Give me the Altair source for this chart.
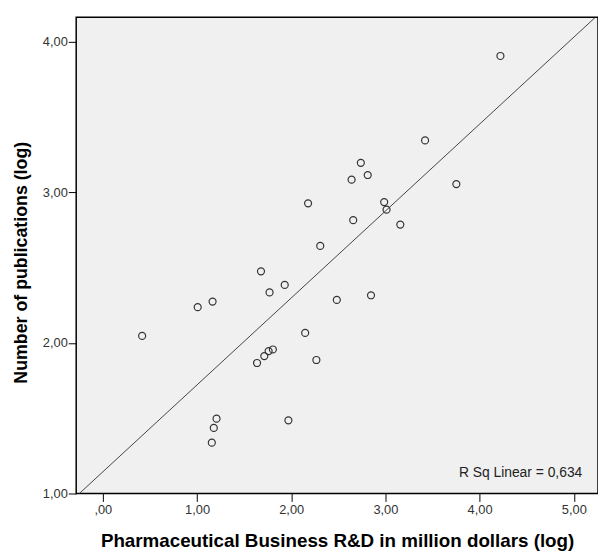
import altair as alt
import pandas as pd

rd_log = [4.221, 3.421, 3.753, 2.739, 2.812, 2.641, 2.179, 2.987, 3.012, 2.658,
          3.158, 2.308, 1.679, 1.770, 1.931, 1.165, 1.007, 2.484, 2.847, 0.417,
          2.148, 1.805, 1.760, 1.714, 1.637, 2.267, 1.207, 1.178, 1.157, 1.970]
pubs_log = [3.907, 3.346, 3.056, 3.197, 3.116, 3.085, 2.928, 2.936, 2.886, 2.816,
            2.787, 2.645, 2.476, 2.336, 2.386, 2.275, 2.238, 2.286, 2.317, 2.047,
            2.067, 1.957, 1.946, 1.913, 1.867, 1.887, 1.497, 1.436, 1.338, 1.486]
x_ticks = [0, 1, 2, 3, 4, 5]
y_ticks = [1, 2, 3, 4]
x_domain = [-0.283, 5.257]
y_domain = [1.0, 4.165]
r_sq_label = ["R Sq Linear = 0,634"]
r_sq_pos_x = [5.09]
r_sq_pos_y = [1.138]

df = pd.DataFrame({"x": rd_log, "y": pubs_log})
lab_df = pd.DataFrame({"x": r_sq_pos_x, "y": r_sq_pos_y, "t": r_sq_label})

FONT = "Liberation Sans"
label_expr = "datum.value == 0 ? ',00' : replace(format(datum.value, '.2f'), '.', ',')"

x_enc = alt.X("x:Q", scale=alt.Scale(domain=x_domain, nice=False, zero=False),
              axis=alt.Axis(values=x_ticks, labelExpr=label_expr, grid=False, domain=False,
                            tickSize=8, tickColor="black", tickWidth=1,
                            labelFont=FONT, labelFontSize=13, labelColor="#333333", labelPadding=2,
                            title="Pharmaceutical Business R&D in million dollars (log)",
                            titleFont=FONT, titleFontSize=19, titleFontWeight="bold",
                            titleColor="black", titleBaseline="alphabetic", titleY=54))
y_enc = alt.Y("y:Q", scale=alt.Scale(domain=y_domain, nice=False, zero=False),
              axis=alt.Axis(values=y_ticks, labelExpr=label_expr, grid=False, domain=False,
                            tickSize=8, tickColor="black", tickWidth=1,
                            labelFont=FONT, labelFontSize=13, labelColor="#333333", labelPadding=1,
                            title="Number of publications (log)",
                            titleFont=FONT, titleFontSize=18, titleFontWeight="bold",
                            titleColor="black", titleAngle=270, titleBaseline="alphabetic",
                            titleX=-50, titleY=248))

base = alt.Chart(df)

points = base.mark_point(shape="circle", filled=False, color="#333333", size=50,
                         strokeWidth=1.2, opacity=1).encode(x=x_enc, y=y_enc)

fit = base.transform_regression("x", "y", extent=x_domain).mark_line(
    color="#444444", strokeWidth=1, clip=True).encode(x="x:Q", y="y:Q")

txt = alt.Chart(lab_df).mark_text(align="right", baseline="middle", font=FONT,
                                  fontSize=14, color="#222222").encode(
    x="x:Q", y="y:Q", text="t:N")

chart = alt.layer(fit, points, txt).properties(
    width=528, height=482,
    autosize=alt.AutoSizeParams(type="none"),
    padding={"left": 69, "top": 6, "right": 0, "bottom": 62},
).configure_view(fill="#f0f0f0", stroke="black", strokeWidth=1.5)

chart.save("out.html", embed_options={"renderer": "svg", "actions": False})
